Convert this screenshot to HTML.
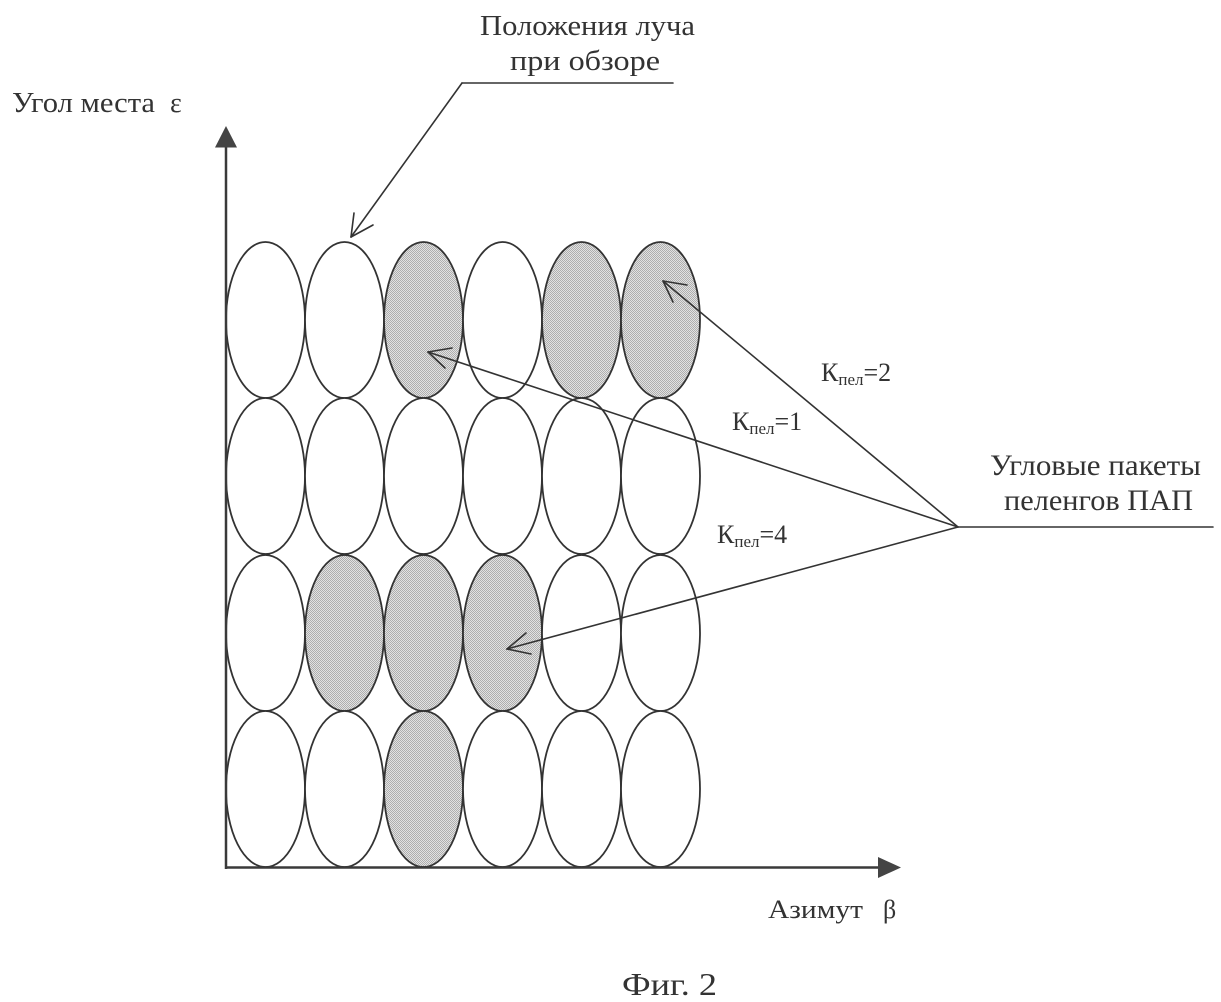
<!DOCTYPE html>
<html>
<head>
<meta charset="utf-8">
<style>
  html, body { margin:0; padding:0; background:#fff; }
  svg { display:block; }
  text { font-family: "Liberation Serif", "DejaVu Serif", serif; fill:#333; }
</style>
</head>
<body>
<svg width="1221" height="1002" viewBox="0 0 1221 1002" xmlns="http://www.w3.org/2000/svg">
  <defs>
    <pattern id="dots" width="2" height="2" patternUnits="userSpaceOnUse">
      <rect width="2" height="2" fill="#e2e2e2"/>
      <rect width="1" height="1" fill="#aeaeae"/>
      <rect x="1" y="1" width="1" height="1" fill="#aeaeae"/>
    </pattern>
  </defs>
  <rect width="1221" height="1002" fill="#fff"/>

  <!-- ellipses -->
  <g stroke="#333" stroke-width="1.8">
    <!-- row 1 -->
    <ellipse cx="265.5" cy="320" rx="39.5" ry="78" fill="#fff"/>
    <ellipse cx="344.5" cy="320" rx="39.5" ry="78" fill="#fff"/>
    <ellipse cx="423.5" cy="320" rx="39.5" ry="78" fill="url(#dots)"/>
    <ellipse cx="502.5" cy="320" rx="39.5" ry="78" fill="#fff"/>
    <ellipse cx="581.5" cy="320" rx="39.5" ry="78" fill="url(#dots)"/>
    <ellipse cx="660.5" cy="320" rx="39.5" ry="78" fill="url(#dots)"/>
    <!-- row 2 -->
    <ellipse cx="265.5" cy="476" rx="39.5" ry="78" fill="#fff"/>
    <ellipse cx="344.5" cy="476" rx="39.5" ry="78" fill="#fff"/>
    <ellipse cx="423.5" cy="476" rx="39.5" ry="78" fill="#fff"/>
    <ellipse cx="502.5" cy="476" rx="39.5" ry="78" fill="#fff"/>
    <ellipse cx="581.5" cy="476" rx="39.5" ry="78" fill="#fff"/>
    <ellipse cx="660.5" cy="476" rx="39.5" ry="78" fill="#fff"/>
    <!-- row 3 -->
    <ellipse cx="265.5" cy="633" rx="39.5" ry="78" fill="#fff"/>
    <ellipse cx="344.5" cy="633" rx="39.5" ry="78" fill="url(#dots)"/>
    <ellipse cx="423.5" cy="633" rx="39.5" ry="78" fill="url(#dots)"/>
    <ellipse cx="502.5" cy="633" rx="39.5" ry="78" fill="url(#dots)"/>
    <ellipse cx="581.5" cy="633" rx="39.5" ry="78" fill="#fff"/>
    <ellipse cx="660.5" cy="633" rx="39.5" ry="78" fill="#fff"/>
    <!-- row 4 -->
    <ellipse cx="265.5" cy="789" rx="39.5" ry="78" fill="#fff"/>
    <ellipse cx="344.5" cy="789" rx="39.5" ry="78" fill="#fff"/>
    <ellipse cx="423.5" cy="789" rx="39.5" ry="78" fill="url(#dots)"/>
    <ellipse cx="502.5" cy="789" rx="39.5" ry="78" fill="#fff"/>
    <ellipse cx="581.5" cy="789" rx="39.5" ry="78" fill="#fff"/>
    <ellipse cx="660.5" cy="789" rx="39.5" ry="78" fill="#fff"/>
  </g>

  <!-- axes -->
  <g stroke="#3a3a3a" stroke-width="2.5" fill="none">
    <line x1="226" y1="869" x2="226" y2="140"/>
    <line x1="225" y1="867.5" x2="885" y2="867.5"/>
  </g>
  <polygon points="226,126 215,147.5 237,147.5" fill="#444"/>
  <polygon points="901,867.5 878,857 878,878" fill="#444"/>

  <!-- callout: Положения луча -->
  <g stroke="#333" stroke-width="1.6" fill="none" stroke-linecap="round">
    <line x1="673" y1="83" x2="462" y2="83"/>
    <line x1="462" y1="83" x2="351" y2="237"/>
    <line x1="351" y1="237" x2="373" y2="225"/>
    <line x1="351" y1="237" x2="354" y2="213"/>
  </g>

  <!-- callout: Угловые пакеты -->
  <g stroke="#333" stroke-width="1.6" fill="none" stroke-linecap="round">
    <line x1="1213" y1="527" x2="958" y2="527"/>
    <line x1="958" y1="527" x2="663" y2="281"/>
    <line x1="958" y1="527" x2="428" y2="352"/>
    <line x1="958" y1="527" x2="507" y2="649"/>
    <!-- arrowheads -->
    <line x1="663" y1="281" x2="687" y2="285"/>
    <line x1="663" y1="281" x2="673" y2="302"/>
    <line x1="428" y1="352" x2="452" y2="348"/>
    <line x1="428" y1="352" x2="445" y2="368"/>
    <line x1="507" y1="649" x2="526" y2="633"/>
    <line x1="507" y1="649" x2="531" y2="654"/>
  </g>

  <!-- labels -->
  <text x="480" y="35" font-size="29" textLength="215" lengthAdjust="spacingAndGlyphs">Положения луча</text>
  <text x="510" y="70" font-size="29" textLength="150" lengthAdjust="spacingAndGlyphs">при обзоре</text>

  <text x="12" y="112" font-size="28" textLength="143" lengthAdjust="spacingAndGlyphs">Угол места</text>
  <text x="170" y="112" font-size="28">ε</text>

  <text x="990" y="475" font-size="30" textLength="211" lengthAdjust="spacingAndGlyphs">Угловые пакеты</text>
  <text x="1004" y="510" font-size="30" textLength="189" lengthAdjust="spacingAndGlyphs">пеленгов ПАП</text>

  <text x="821" y="381" font-size="26">К<tspan font-size="17" dy="4">пел</tspan><tspan dy="-4">=2</tspan></text>
  <text x="732" y="430" font-size="26">К<tspan font-size="17" dy="4">пел</tspan><tspan dy="-4">=1</tspan></text>
  <text x="717" y="543" font-size="26">К<tspan font-size="17" dy="4">пел</tspan><tspan dy="-4">=4</tspan></text>

  <text x="768" y="918" font-size="26" textLength="95" lengthAdjust="spacingAndGlyphs">Азимут</text>
  <text x="883" y="918" font-size="26">β</text>

  <text x="622" y="995" font-size="32" textLength="95" lengthAdjust="spacingAndGlyphs">Фиг. 2</text>
</svg>
</body>
</html>
